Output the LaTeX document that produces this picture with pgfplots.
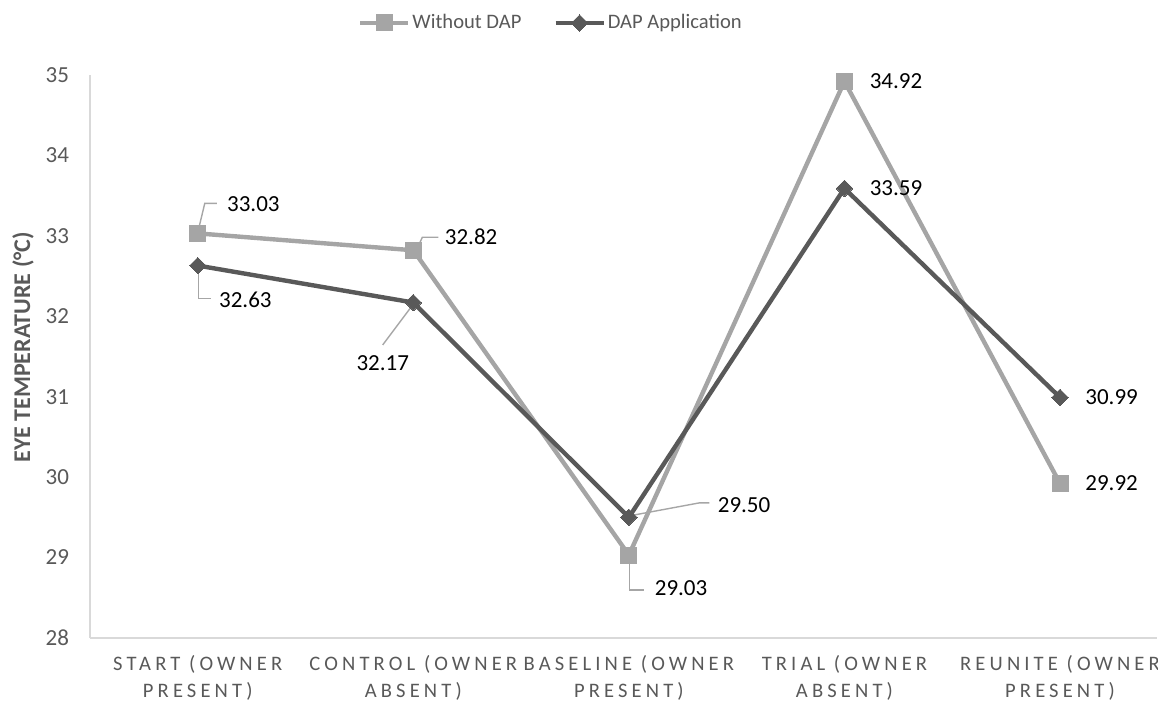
\documentclass[border=0pt]{standalone}
\usepackage{pgfplots}
\pgfplotsset{compat=1.18}
\usepackage{fontspec}
\setmainfont{Carlito}
\newfontfamily\spaced[LetterSpace=20]{Carlito}
\definecolor{lightser}{HTML}{A5A5A5}
\definecolor{darkser}{HTML}{595959}
\definecolor{txtgray}{HTML}{595959}
\definecolor{axgray}{HTML}{D9D9D9}
\definecolor{leadgray}{HTML}{A6A6A6}
\tikzset{
  leader/.style={draw=leadgray, line width=0.7pt},
  lbl/.style={inner sep=0pt, font=\fontsize{11.5}{13}\selectfont, text=black},
}
\begin{document}
\begin{tikzpicture}
\begin{axis}[
  name=ax,
  x=107.8pt, y=40.215pt,
  xmin=-0.5, xmax=4.45, ymin=28, ymax=35,
  axis x line*=bottom, axis y line*=left,
  axis line style={draw=axgray, line width=1pt, -},
  major tick length=0pt,
  ytick={28,...,35},
  xtick={0,...,4},
  xticklabels={START (OWNER\\PRESENT), CONTROL (OWNER\\ABSENT), BASELINE (OWNER\\PRESENT), TRIAL (OWNER\\ABSENT), REUNITE (OWNER\\PRESENT)},
  tick label style={text=txtgray},
  /pgf/number format/assume math mode=true,
  yticklabel style={font=\fontsize{11.5}{13}\selectfont, xshift=-7pt},
  xticklabel style={font=\spaced\fontsize{10.3}{13.3}\selectfont, align=center, yshift=-5.3pt},
  ylabel={EYE TEMPERATURE (°C)},
  ylabel style={font=\bfseries\fontsize{12}{14}\selectfont, text=txtgray, at={(axis description cs:-0.0628,0.516)}, anchor=center},
  clip=false,
  legend columns=2,
  legend style={at={(0.432,1)}, anchor=center, yshift=26pt, draw=none, font=\fontsize{10.3}{12}\selectfont, text=txtgray, /tikz/every even column/.append style={column sep=15pt}, nodes={inner xsep=1pt}},
  legend image code/.code={\draw[mark repeat=2,mark phase=2,#1] plot coordinates {(0pt,0pt) (12pt,0pt) (24pt,0pt)};},
]
\addplot[color=lightser, line width=2.2pt, mark=square*, mark size=4pt, mark options={solid, fill=lightser, draw=lightser, line width=0pt}]
  coordinates {(0,33.03) (1,32.82) (2,29.03) (3,34.92) (4,29.92)};
\addlegendentry{Without DAP}
\addplot[color=darkser, line width=2.2pt, mark=square*, mark size=2.9pt, mark options={solid, rotate=45, fill=darkser, draw=darkser, line width=0pt}]
  coordinates {(0,32.63) (1,32.17) (2,29.50) (3,33.59) (4,30.99)};
\addlegendentry{DAP Application}

% leader lines
\draw[leader] (axis cs:0,33.03) ++(0.5pt,2.5pt) -- ++(3pt,12.5pt) -- ++(6pt,0pt);
\draw[leader] (axis cs:0,32.63) ++(0.5pt,-1pt) -- ++(0pt,-15.5pt) -- ++(6pt,0pt);
\draw[leader] (axis cs:1,32.82) ++(2pt,1pt) -- ++(2.5pt,5.5pt) -- ++(8pt,0pt);
\draw[leader] (axis cs:1,32.17) ++(-0.3pt,-1.2pt) -- ++(-15pt,-20pt);
\draw[leader] (axis cs:2,29.50) ++(0.3pt,0.7pt) -- ++(35pt,6.5pt) -- ++(5pt,0pt);
\draw[leader] (axis cs:2,29.03) ++(0.3pt,-1.5pt) -- ++(0pt,-16pt) -- ++(7.5pt,0pt);

% data labels
\node[lbl, anchor=west, xshift=14.5pt, yshift=14.7pt] at (axis cs:0,33.03) {33.03};
\node[lbl, anchor=west, xshift=10.5pt, yshift=-17.2pt] at (axis cs:0,32.63) {32.63};
\node[lbl, anchor=west, xshift=15.6pt, yshift=6.6pt] at (axis cs:1,32.82) {32.82};
\node[lbl, anchor=center, xshift=-15.3pt, yshift=-30.2pt] at (axis cs:1,32.17) {32.17};
\node[lbl, anchor=west, xshift=44.3pt, yshift=6.2pt] at (axis cs:2,29.50) {29.50};
\node[lbl, anchor=west, xshift=12.8pt, yshift=-16.4pt] at (axis cs:2,29.03) {29.03};
\node[lbl, anchor=west, xshift=12.5pt] at (axis cs:3,34.92) {34.92};
\node[lbl, anchor=west, xshift=12.5pt] at (axis cs:3,33.59) {33.59};
\node[lbl, anchor=west, xshift=12.5pt] at (axis cs:4,30.99) {30.99};
\node[lbl, anchor=west, xshift=12.5pt] at (axis cs:4,29.92) {29.92};
\end{axis}
\pgfresetboundingbox
\path[use as bounding box] ([xshift=-45pt,yshift=-32pt]ax.south west) rectangle ([xshift=0.5pt,yshift=37.5pt]ax.north east);
\end{tikzpicture}
\end{document}
